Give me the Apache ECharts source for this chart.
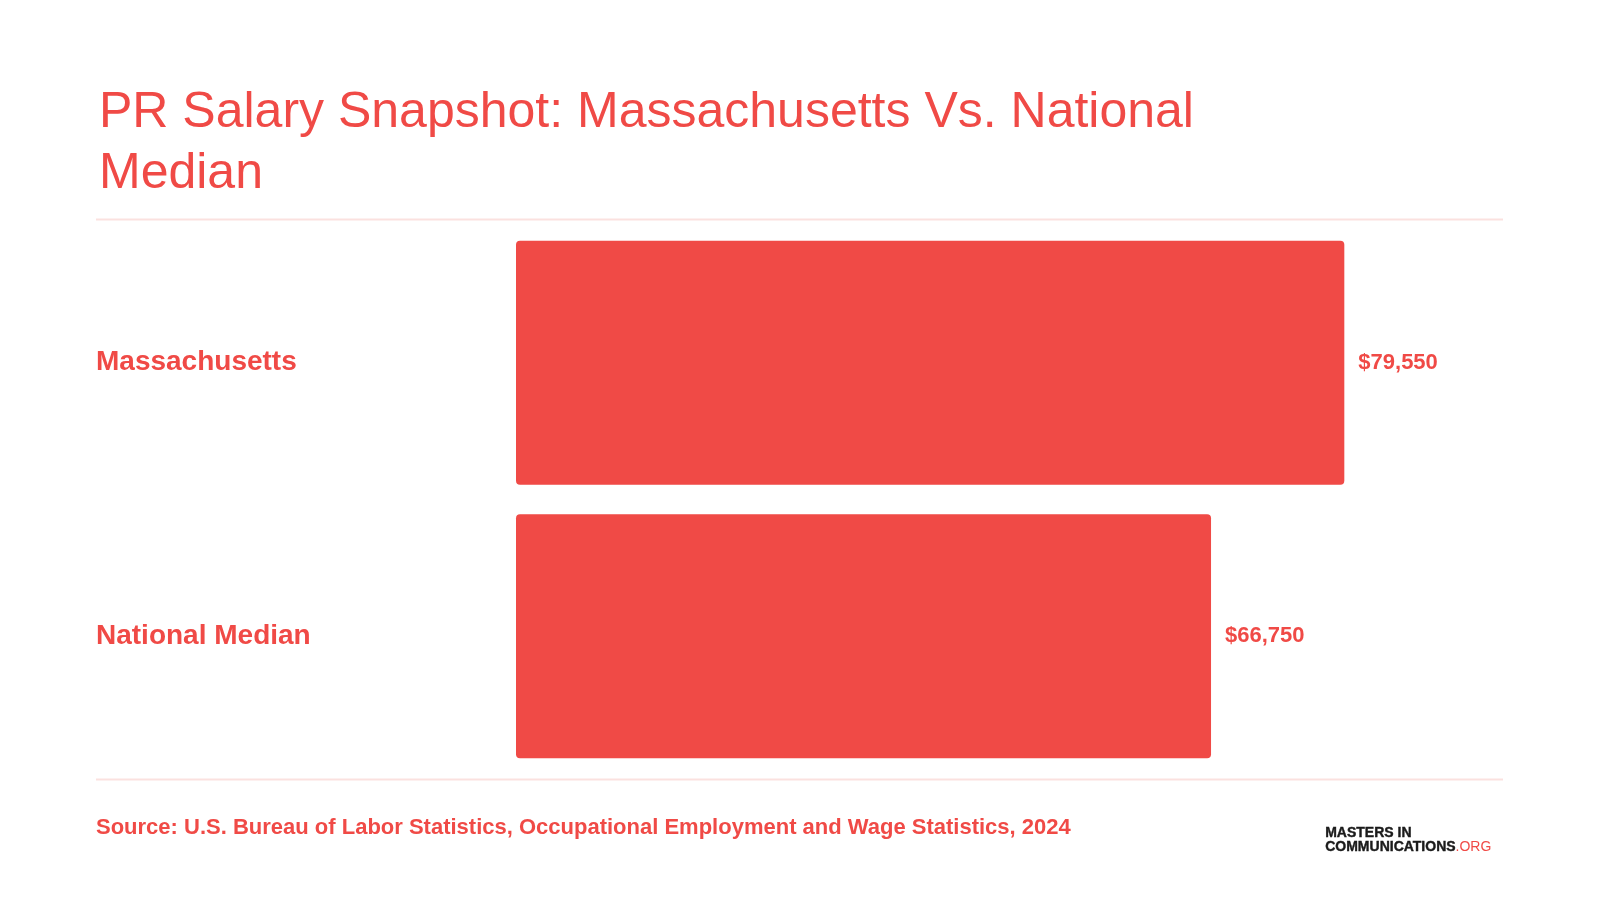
<!DOCTYPE html>
<html>
<head>
<meta charset="utf-8">
<script src="https://cdn.jsdelivr.net/npm/echarts@6/dist/echarts.min.js"></script>
<style>
  html, body { margin: 0; padding: 0; background: #fff; }
  #chart { width: 1600px; height: 900px; }
</style>
</head>
<body>
<div id="chart"></div>
<script>
// data
const categories = ["Massachusetts", "National Median"];
const salaries = [79550, 66750];

const RED = "#f04a46";
const LINE = "#fbe1df";
const FONT = "Liberation Sans, Arial, sans-serif";

const chart = echarts.init(document.getElementById("chart"));

const option = {
  backgroundColor: "#fff",
  title: {
    text: "PR Salary Snapshot: Massachusetts Vs. National\nMedian",
    left: 94,
    top: 78,
    textStyle: {
      color: RED,
      fontFamily: FONT,
      fontWeight: "normal",
      fontSize: 50,
      lineHeight: 61,
    },
  },
  grid: {
    left: 516,
    right: 251,
    top: 226,
    height: 547,
  },
  xAxis: {
    type: "value",
    min: 0,
    max: 80000,
    show: false,
  },
  yAxis: {
    type: "category",
    data: categories,
    inverse: true,
    axisLine: { show: false },
    axisTick: { show: false },
    splitLine: { show: false },
    axisLabel: {
      align: "left",
      margin: 420,
      color: RED,
      fontFamily: FONT,
      fontWeight: "bold",
      fontSize: 28,
      lineHeight: 34,
      padding: [12, 0, 0, 0],
    },
  },
  series: [
    {
      type: "bar",
      data: salaries,
      barWidth: 244,
      itemStyle: {
        color: RED,
        borderRadius: 4,
      },
      label: {
        show: true,
        position: "right",
        distance: 14,
        color: RED,
        fontFamily: FONT,
        fontWeight: "bold",
        fontSize: 22,
        padding: [8, 0, 0, 0],
        formatter: (p) => "$" + p.value.toLocaleString("en-US"),
      },
    },
  ],
  graphic: [
    {
      type: "line",
      shape: { x1: 96, y1: 219.5, x2: 1503, y2: 219.5 },
      style: { stroke: LINE, lineWidth: 2 },
    },
    {
      type: "line",
      shape: { x1: 96, y1: 779.5, x2: 1503, y2: 779.5 },
      style: { stroke: LINE, lineWidth: 2 },
    },
    {
      type: "text",
      left: 96,
      top: 817,
      style: {
        text: "Source: U.S. Bureau of Labor Statistics, Occupational Employment and Wage Statistics, 2024",
        fill: RED,
        font: "bold 22px " + FONT,
      },
    },
    {
      type: "text",
      left: 1325,
      top: 826,
      style: {
        text: "{b|MASTERS IN}\n{b|COMMUNICATIONS}{r|.ORG}",
        rich: {
          b: { fill: "#1a1a1a", font: "900 14px " + FONT, lineHeight: 14, textStrokeWidth: 0.4, stroke: "#1a1a1a", lineWidth: 0.4 },
          r: { fill: RED, font: "14px " + FONT, lineHeight: 14 },
        },
      },
    },
  ],
};

chart.setOption(option);
</script>
</body>
</html>
